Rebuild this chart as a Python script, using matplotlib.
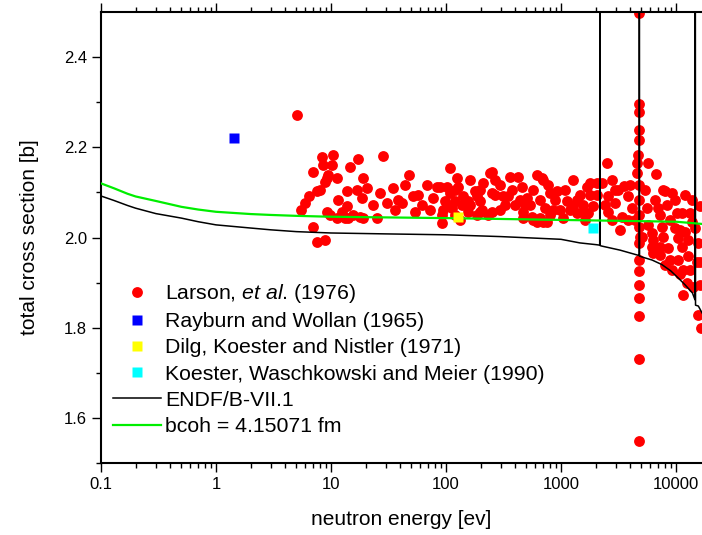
import numpy as np
import matplotlib
matplotlib.use("Agg")
import matplotlib.pyplot as plt
from matplotlib.ticker import FixedLocator, NullFormatter

plt.rcParams['font.family'] = ['Liberation Sans', 'DejaVu Sans']
plt.rcParams['mathtext.fontset'] = 'custom'
plt.rcParams['mathtext.rm'] = 'Liberation Sans'
plt.rcParams['mathtext.it'] = 'Liberation Sans:italic'

# Larson et al. (1976)
larson_e = [5.1, 5.5, 5.9, 6.4, 7.0, 7.0, 7.5, 8.9, 8.0, 8.3, 10.5, 10.1, 8.6, 9.2, 9.5, 8.9, 11.2,
            11.6, 9.2, 9.8, 11.2, 12.4, 13.2, 13.7, 13.7, 7.5,
            14.6, 17.3, 14.1, 15.6, 16.7, 17.9, 18.5, 19.1, 20.4, 19.1, 23.3, 25.0, 26.7, 28.5, 30.5,
            34.8, 38.5, 41.2, 44.0, 48.0, 52.0, 57.4, 61.5, 68.0, 77.6, 83.0, 101, 91.8, 91.8, 94.8,
            98, 108, 108, 112, 120, 124, 128, 132, 141, 156, 156, 162, 179, 185, 198, 204, 211, 233,
            241, 250, 88.7, 101, 120, 185, 198,
            250, 267, 295, 295, 250, 315, 348, 360, 425, 398, 440, 455, 470, 486, 503, 556, 574, 574,
            656, 656, 679, 702, 726, 802, 802, 887, 918, 980, 1048, 1122, 1280, 1280, 1370, 1463,
            1564, 1671, 1726, 1786, 1786, 1909, 2042, 1197, 857, 470, 751, 1564, 615,
            198, 267, 326, 375, 537, 618, 771, 1084, 1377, 2056, 1617, 162, 72.6, 53.7, 36, 120, 138,
            2259, 2497, 2577, 2577, 2951, 3377, 3534, 3849, 4399, 5673, 6700, 5563, 7016, 8021, 9180,
            8293, 11210, 13240, 16180, 5741, 7508, 9800, 11970, 14620, 5032, 6148, 7762, 10475,
            12800, 6148, 8570, 11210, 15640, 6355, 8872, 10475, 12800, 9180, 10839, 12380, 11570,
            14140, 15640, 2951, 4120, 3849, 2760, 7760, 10140, 10840, 11570, 16500, 6355, 7260,
            16180, 16180, 702,
            2775, 3130, 3981, 5375, 6568, 9800, 11970, 13770, 7260, 8872, 13770, 2414, 3258, 7260,
            8021, 13240, 15230,
            4800, 4800, 4800, 4800, 4800, 4700, 4600, 4550, 4800, 4750, 4800, 4800, 4850, 4800,
            4800, 4800, 4800, 4800, 4800, 4750, 4800]
larson_s = [2.272, 2.061, 2.076, 2.091, 2.146, 2.024, 1.991, 1.995, 2.105, 2.179, 2.184, 2.161,
            2.161, 2.131, 2.139, 2.124, 2.131, 2.083, 2.057, 2.050, 2.043, 2.057, 2.043, 2.102,
            2.069, 2.102,
            2.156, 2.175, 2.043, 2.050, 2.105, 2.046, 2.087, 2.131, 2.109, 2.043, 2.072, 2.043,
            2.098, 2.181, 2.076, 2.109, 2.083, 2.076, 2.116, 2.139, 2.091, 2.094, 2.072, 2.116,
            2.087, 2.113, 2.113, 2.050, 2.032, 2.061, 2.080, 2.153, 2.098, 2.065, 2.080, 2.131,
            2.113, 2.039, 2.091, 2.080, 2.057, 2.128, 2.102, 2.050, 2.080, 2.061, 2.120, 2.050,
            2.142, 2.098, 2.113, 2.069, 2.105, 2.091, 2.057,
            2.146, 2.094, 2.116, 2.061, 2.057, 2.091, 2.091, 2.135, 2.135, 2.072, 2.083, 2.113,
            2.057, 2.072, 2.087, 2.046, 2.105, 2.039, 2.083, 2.043, 2.131, 2.035, 2.065, 2.098,
            2.050, 2.083, 2.102, 2.061, 2.043, 2.080, 2.128, 2.069, 2.054, 2.094, 2.072, 2.113,
            2.054, 2.120, 2.094, 2.069, 2.120, 2.061, 2.061, 2.043, 2.035, 2.057, 2.035,
            2.105, 2.128, 2.072, 2.105, 2.072, 2.139, 2.116, 2.105, 2.083, 2.094, 2.039, 2.072,
            2.061, 2.057, 2.061, 2.050, 2.072,
            2.120, 2.166, 2.091, 2.057, 2.076, 2.046, 2.114, 2.091, 2.039, 2.166, 2.141, 2.065,
            2.065, 2.102, 2.098, 2.072, 2.054, 2.054, 2.069, 2.028, 2.024, 2.021, 2.013, 2.021,
            2.002, 2.010, 2.002, 1.999, 1.995, 1.980, 1.977, 1.980, 1.988, 1.966, 1.951, 1.951,
            1.958, 1.929, 1.918, 1.899, 1.873, 1.891, 1.829, 2.105, 2.065, 2.039, 2.039, 2.105,
            2.054, 2.017, 1.929, 1.800, 1.995, 1.980, 1.946, 1.895, 2.128,
            2.128, 2.105, 2.116, 2.105, 2.083, 2.083, 2.094, 2.083, 2.050, 2.039, 2.035, 2.072,
            2.017, 1.962, 1.940, 1.929, 1.946,
            2.497, 2.297, 2.278, 2.238, 2.216, 2.183, 2.165, 2.143, 2.116, 2.083, 2.050, 2.024,
            2.002, 1.988, 1.951, 1.925, 1.895, 1.866, 1.825, 1.730, 1.549]

rayburn_e, rayburn_s = [1.44], [2.221]
dilg_e, dilg_s = [128], [2.045]
koester_e, koester_s = [1910], [2.020]

endf_e = [0.1, 0.13, 0.17, 0.2, 0.3, 0.5, 0.7, 1, 2, 3, 5, 10, 30, 100, 300, 1000, 1460, 2040,
          2170, 2180, 2190, 2260, 3260, 4780, 4800, 4820, 5030, 6200, 7530, 9000, 10480, 12000,
          13900, 14620, 14700, 14780, 15640, 16830, 20000]
endf_s = [2.092, 2.082, 2.071, 2.065, 2.053, 2.043, 2.035, 2.028, 2.021, 2.017, 2.013, 2.010,
          2.008, 2.006, 2.002, 1.996, 1.988, 1.984, 1.983, 3.0, 1.982, 1.981, 1.972, 1.960, 3.0,
          1.959, 1.957, 1.950, 1.940, 1.926, 1.910, 1.895, 1.877, 1.862, 3.0, 1.850, 1.848, 1.833,
          1.80]

bcoh_e = [0.1, 0.13, 0.17, 0.2, 0.3, 0.5, 0.7, 1, 2, 3, 5, 10, 100, 1000, 10000, 17000, 20000]
bcoh_s = [2.120, 2.109, 2.097, 2.091, 2.081, 2.068, 2.062, 2.057, 2.052, 2.050, 2.048, 2.046,
          2.043, 2.039, 2.035, 2.030, 2.029]

fig = plt.figure(figsize=(7.02, 5.35), dpi=100)
ax = fig.add_axes([101/702, 72/535, 601/702, 451/535])

ax.plot(larson_e, larson_s, 'o', color='red', ms=7.8, mec='none',
        label=r'Larson, $et\ al$. (1976)')
ax.plot(endf_e, endf_s, '-', color='black', lw=1.1, label='ENDF/B-VII.1', zorder=3)
ax.plot(bcoh_e, bcoh_s, '-', color='#00ee00', lw=1.6, label='bcoh = 4.15071 fm', zorder=3)
ax.plot(rayburn_e, rayburn_s, 's', color='blue', ms=7, mec='none',
        label='Rayburn and Wollan (1965)', zorder=4)
ax.plot(dilg_e, dilg_s, 's', color='yellow', ms=7, mec='none',
        label='Dilg, Koester and Nistler (1971)', zorder=4)
ax.plot(koester_e, koester_s, 's', color='cyan', ms=7, mec='none',
        label='Koester, Waschkowski and Meier (1990)', zorder=4)

ax.set_xscale('log')
ax.set_xlim(0.1, 10**4.226)
ax.set_ylim(1.5, 2.5)

ax.xaxis.set_major_locator(FixedLocator([0.1, 1, 10, 100, 1000, 10000]))
ax.set_xticklabels(['0.1', '1', '10', '100', '1000', '10000'])
ax.yaxis.set_major_locator(FixedLocator([1.6, 1.8, 2.0, 2.2, 2.4]))
ax.yaxis.set_minor_locator(FixedLocator([1.5, 1.7, 1.9, 2.1, 2.3]))
ax.set_yticklabels(['1.6', '1.8', '2.0', '2.2', '2.4'])
ax.yaxis.set_minor_formatter(NullFormatter())

ax.tick_params(which='both', direction='out', top=True, right=False, labelsize=12, width=1)
ax.tick_params(which='major', length=6.5)
ax.tick_params(which='minor', length=3.5)
for s in ['left', 'bottom', 'top']:
    ax.spines[s].set_linewidth(1.5)
ax.spines['right'].set_visible(False)

ax.set_xlabel('neutron energy [ev]', fontsize=15, labelpad=13)
ax.set_ylabel('total cross section [b]', fontsize=15, labelpad=18)

h, l = ax.get_legend_handles_labels()
order = [0, 3, 4, 5, 1, 2]
ax.legend([h[i] for i in order], [l[i] for i in order], loc='upper left',
          bbox_to_anchor=(113/702, 1 - 282/535), bbox_transform=fig.transFigure,
          frameon=False, fontsize=15.3, handlelength=2.25, handletextpad=0.2,
          labelspacing=0.34, borderpad=0, borderaxespad=0)

fig.savefig('out.png', dpi=100)
